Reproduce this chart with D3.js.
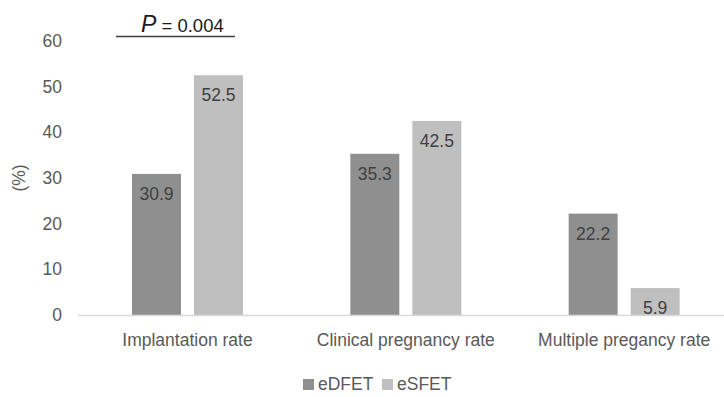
<!DOCTYPE html>
<meta charset="utf-8">
<script src="https://d3js.org/d3.v7.min.js"></script>
<style>
  body { margin: 0; background: #fff; }
  text { font-family: "Liberation Sans", Arial, sans-serif; }
</style>
<body>
<div id="chart"></div>
<script>
var categories = ["Implantation rate", "Clinical pregnancy rate", "Multiple pregancy rate"]
var series = ["eDFET", "eSFET"]
var eDFET = [30.9, 35.3, 22.2]
var eSFET = [52.5, 42.5, 5.9]
var yTicks = [0, 10, 20, 30, 40, 50, 60]
var colors = { eDFET: "#8f8f8f", eSFET: "#bfbfbf" }

var w = 724, h = 397
var fs = 17.5

var svg = d3.select("#chart").append("svg")
  .attr("width", w).attr("height", h)

var y = d3.scaleLinear().domain([0, 60]).range([315, 41])

var x0 = d3.scaleBand().domain(categories).range([78, 733]).padding(0)
var x1 = d3.scaleBand().domain(series).range([54, 165]).paddingInner(0.21)

// y tick labels, no axis line
var yAxis = svg.append("g")
  .attr("transform", "translate(62,0)")
  .call(d3.axisLeft(y).tickValues(yTicks).tickSize(0).tickPadding(0))
yAxis.select(".domain").remove()
yAxis.selectAll("text")
  .attr("fill", "#595959")
  .attr("font-size", fs)
  .style("font-family", "Liberation Sans, Arial, sans-serif")

// y title
svg.append("text")
  .attr("transform", "translate(25," + y(30) + ") rotate(-90)")
  .attr("text-anchor", "middle")
  .attr("fill", "#595959")
  .attr("font-size", fs)
  .text("(%)")

var data = categories.map(function (c, i) {
  return { cat: c, values: [{ s: "eDFET", v: eDFET[i] }, { s: "eSFET", v: eSFET[i] }] }
})

var groups = svg.append("g").selectAll("g")
  .data(data)
  .enter().append("g")
  .attr("transform", function (d) { return "translate(" + x0(d.cat) + ",0)" })

groups.selectAll("rect")
  .data(function (d) { return d.values })
  .enter().append("rect")
  .attr("x", function (d) { return x1(d.s) })
  .attr("y", function (d) { return y(d.v) })
  .attr("width", x1.bandwidth())
  .attr("height", function (d) { return y(0) - y(d.v) })
  .attr("fill", function (d) { return colors[d.s] })

groups.selectAll("text.val")
  .data(function (d) { return d.values })
  .enter().append("text")
  .attr("class", "val")
  .attr("x", function (d) { return x1(d.s) + x1.bandwidth() / 2 })
  .attr("y", function (d) { return y(d.v) + 26 })
  .attr("text-anchor", "middle")
  .attr("fill", "#404040")
  .attr("font-size", fs)
  .text(function (d) { return d.v.toFixed(1) })

// baseline
svg.append("line")
  .attr("x1", 78).attr("x2", w)
  .attr("y1", y(0) + 0.5).attr("y2", y(0) + 0.5)
  .attr("stroke", "#d9d9d9").attr("stroke-width", 1.5)

// category labels
svg.append("g").selectAll("text")
  .data(categories)
  .enter().append("text")
  .attr("x", function (d) { return x0(d) + x1("eDFET") + (x1("eSFET") + x1.bandwidth() - x1("eDFET")) / 2 })
  .attr("y", 346)
  .attr("text-anchor", "middle")
  .attr("fill", "#595959")
  .attr("font-size", fs)
  .text(function (d) { return d })

// P value annotation
var gx = x0(categories[0])
svg.append("line")
  .attr("x1", gx + 38).attr("x2", gx + 157)
  .attr("y1", 36.5).attr("y2", 36.5)
  .attr("stroke", "#404040").attr("stroke-width", 1.5)
var pt = svg.append("text")
  .attr("x", gx + 63).attr("y", 31.5)
  .attr("fill", "#1a1a1a")
pt.append("tspan")
  .attr("font-style", "italic")
  .attr("font-size", 23)
  .text("P")
pt.append("tspan")
  .attr("font-size", 18.5)
  .text(" = 0.004")

// legend
var legendX = [303, 382]
var legend = svg.append("g").selectAll("g")
  .data(series)
  .enter().append("g")
  .attr("transform", function (d, i) { return "translate(" + legendX[i] + ",379)" })
legend.append("rect")
  .attr("width", 11).attr("height", 11)
  .attr("fill", function (d) { return colors[d] })
legend.append("text")
  .attr("x", 15).attr("y", 11)
  .attr("fill", "#595959")
  .attr("font-size", fs)
  .text(function (d) { return d })
</script>
</body>
